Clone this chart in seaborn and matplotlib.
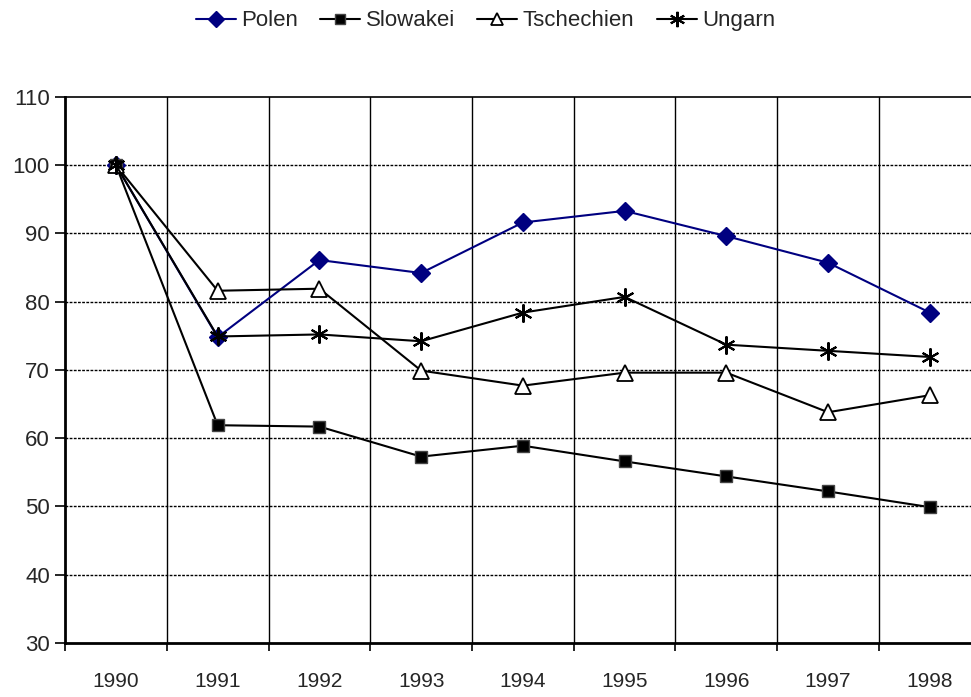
import matplotlib
matplotlib.use("Agg")
import matplotlib.pyplot as plt
import seaborn as sns
import pandas as pd
from matplotlib.ticker import FixedLocator

years = ["1990", "1991", "1992", "1993", "1994", "1995", "1996", "1997", "1998"]
polen = [100, 74.8, 86.1, 84.2, 91.6, 93.3, 89.6, 85.7, 78.4]
slowakei = [100, 61.9, 61.7, 57.3, 58.9, 56.6, 54.4, 52.2, 49.9]
tschechien = [100, 81.6, 81.9, 69.9, 67.7, 69.6, 69.6, 63.8, 66.3]
ungarn = [100, 74.9, 75.2, 74.2, 78.4, 80.7, 73.7, 72.8, 71.9]

series = {"Polen": polen, "Slowakei": slowakei, "Tschechien": tschechien, "Ungarn": ungarn}

sns.set_style("white")
plt.rcParams["font.family"] = ["Liberation Sans", "DejaVu Sans"]

fig = plt.figure(figsize=(9.71, 6.97), dpi=100)
ax = fig.add_axes([0.067, 0.0775, 0.943, 0.7835])

# marker styles (Excel-like)
styles = {
    "Polen": dict(color="#000080", marker="D", markersize=9, markerfacecolor="#000080",
                  markeredgecolor="#000080", markeredgewidth=1),
    "Slowakei": dict(color="black", marker="s", markersize=8, markerfacecolor="black",
                     markeredgecolor="#444444", markeredgewidth=1),
    "Tschechien": dict(color="black", marker="^", markersize=11, markerfacecolor="white",
                       markeredgecolor="black", markeredgewidth=1.3),
    "Ungarn": dict(color="black", marker=(6, 2, 0), markersize=13,
                   markeredgecolor="black", markeredgewidth=1.5),
}

handles = []
for name, vals in series.items():
    d = pd.DataFrame({"pos": range(len(years)), "Wert": vals})
    sns.lineplot(data=d, x="pos", y="Wert", ax=ax, linewidth=1.5, zorder=3, **styles[name])
    hs = dict(styles[name])
    hs["markersize"] = hs["markersize"] * 0.85
    handles.append(plt.Line2D([], [], lw=1.5, **hs))

ax.set_xlim(-0.5, 8.5)
ax.set_ylim(30, 110)
ax.set_yticks(range(30, 111, 10))
ax.set_xticks(range(len(years)))
ax.set_xticklabels(years, fontsize=15)
ax.xaxis.set_minor_locator(FixedLocator([i + 0.5 for i in range(-1, 9)]))
ax.tick_params(axis="x", which="major", length=0, pad=21)
ax.tick_params(axis="x", which="minor", length=6, width=1.2, color="black", direction="out", bottom=True)
ax.tick_params(axis="y", length=7, width=1.2, color="black", direction="out", left=True, labelsize=16, pad=4)
ax.set_xlabel("")
ax.set_ylabel("")

for y in range(40, 110, 10):
    ax.axhline(y, color="black", lw=1, ls=(0, (2, 1)), zorder=1)
for b in [i + 0.5 for i in range(0, 8)]:
    ax.axvline(b, color="black", lw=1, zorder=1)

for side in ["left", "bottom"]:
    ax.spines[side].set_linewidth(2)
    ax.spines[side].set_color("black")
ax.spines["top"].set_linewidth(1.2)
ax.spines["top"].set_color("black")
ax.spines["right"].set_visible(False)

fig.legend(handles, list(series.keys()), loc="center", bbox_to_anchor=(0.5, 0.97),
           ncol=4, frameon=False, fontsize=16, handlelength=1.8, columnspacing=1.0,
           handletextpad=0.25)

plt.savefig("out.png", dpi=100)
